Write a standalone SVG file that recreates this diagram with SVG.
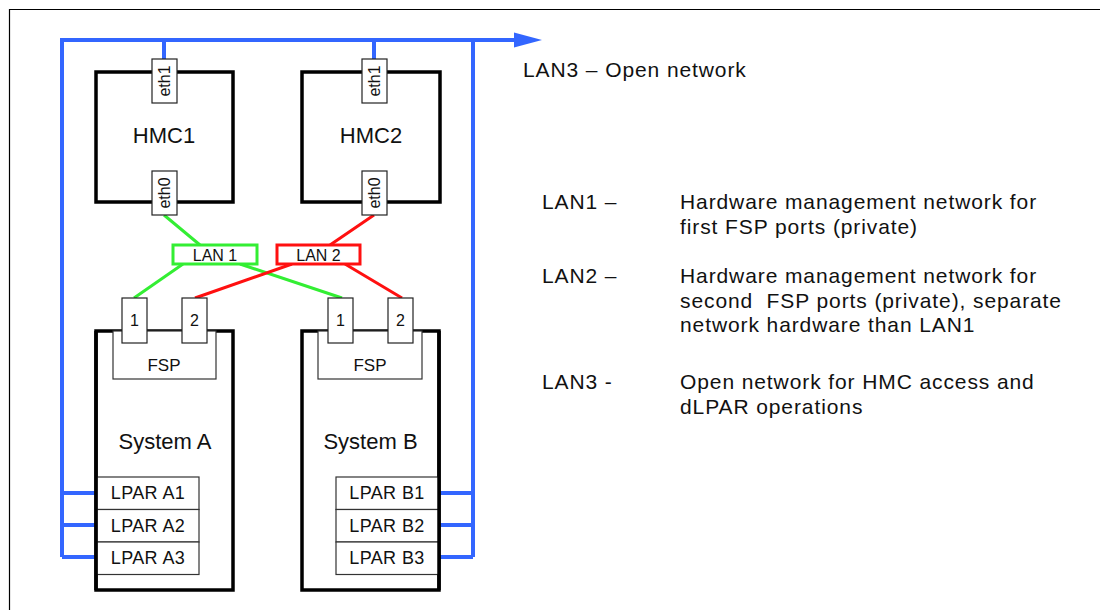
<svg xmlns="http://www.w3.org/2000/svg" width="1100" height="610" viewBox="0 0 1100 610">
<defs>
<style>
text{font-family:"Liberation Sans",Arial,sans-serif;fill:#111}
.big{font-size:22px}
.leg{font-size:21px;letter-spacing:0.9px}
.port{fill:#fff;stroke:#222;stroke-width:1.2}
.sys{fill:#fff;stroke:#000;stroke-width:3.5}
.thin{fill:#fff;stroke:#333;stroke-width:1.2}
.blue{stroke:#3366ff;stroke-width:4;fill:none}
.green{stroke:#33ee33;stroke-width:3;fill:none}
.red{stroke:#ff1010;stroke-width:3;fill:none}
.eth{font-size:16px}
.pn{font-size:16px}
.lpar{font-size:18px;letter-spacing:0.4px}
</style>
</defs>
<rect x="0" y="0" width="1100" height="610" fill="#fff"/>
<path d="M9.5,610 V9.5 H1100" fill="none" stroke="#000" stroke-width="1.2"/>

<g id="connectors">
<path class="blue" d="M62,557 V40 H516"/>
<polygon points="514,32.5 542,40 514,47.5" fill="#3366ff"/>
<path class="blue" d="M473,557 V40"/>
<path class="blue" d="M164,40 V59 M374,40 V59"/>
<path class="blue" d="M62,493 H97 M62,525 H97 M62,557 H97"/>
<path class="blue" d="M439,493 H473 M439,525 H473 M439,557 H473"/>
<path class="green" d="M164,215 L200,245 M183,264 L134,298 M240,264 L342,298"/>
<path class="red" d="M374,215 L330,245 M292,264 L195,298 M345,264 L402,298"/>
</g>

<g id="hmc1">
<rect class="sys" x="96" y="72" width="137" height="130"/>
<text class="big" x="164" y="143" text-anchor="middle">HMC1</text>
<rect class="port" x="152" y="59" width="25" height="44"/>
<text class="eth" transform="translate(170,81) rotate(-90)" text-anchor="middle">eth1</text>
<rect class="port" x="152" y="171" width="25" height="44"/>
<text class="eth" transform="translate(170,193) rotate(-90)" text-anchor="middle">eth0</text>
</g>

<g id="hmc2">
<rect class="sys" x="302" y="72" width="138" height="130"/>
<text class="big" x="371" y="143" text-anchor="middle">HMC2</text>
<rect class="port" x="362" y="59" width="25" height="44"/>
<text class="eth" transform="translate(380,81) rotate(-90)" text-anchor="middle">eth1</text>
<rect class="port" x="362" y="171" width="25" height="44"/>
<text class="eth" transform="translate(380,193) rotate(-90)" text-anchor="middle">eth0</text>
</g>

<g id="lan1">
<rect x="173" y="245" width="84" height="19" fill="#fff" stroke="#33ee33" stroke-width="3"/>
<text class="pn" x="215" y="261" text-anchor="middle">LAN 1</text>
</g>
<g id="lan2">
<rect x="277" y="245" width="83" height="19" fill="#fff" stroke="#ff1010" stroke-width="3"/>
<text class="pn" x="318.5" y="261" text-anchor="middle">LAN 2</text>
</g>

<g id="systemA">
<rect class="sys" x="96" y="331" width="137" height="259"/>
<rect class="thin" x="113" y="331" width="103" height="48"/>
<text class="pn" x="164" y="371" text-anchor="middle" style="font-size:17px">FSP</text>
<rect class="port" x="122" y="298" width="25" height="45"/>
<text class="pn" x="134.5" y="326" text-anchor="middle">1</text>
<rect class="port" x="182" y="298" width="25" height="45"/>
<text class="pn" x="194.5" y="326" text-anchor="middle">2</text>
<text class="big" x="165" y="449" text-anchor="middle">System A</text>
<rect class="thin" x="97" y="477" width="102" height="32.5"/>
<rect class="thin" x="97" y="509.5" width="102" height="32.5"/>
<rect class="thin" x="97" y="542" width="102" height="32.5"/>
<text class="lpar" x="148" y="499" text-anchor="middle">LPAR A1</text>
<text class="lpar" x="148" y="531.5" text-anchor="middle">LPAR A2</text>
<text class="lpar" x="148" y="564" text-anchor="middle">LPAR A3</text>
<path d="M96,331 V590" stroke="#000" stroke-width="3.5"/>
</g>

<g id="systemB">
<rect class="sys" x="302" y="331" width="137" height="259"/>
<rect class="thin" x="318" y="331" width="104" height="48"/>
<text class="pn" x="370" y="371" text-anchor="middle" style="font-size:17px">FSP</text>
<rect class="port" x="328" y="298" width="25" height="45"/>
<text class="pn" x="340.5" y="326" text-anchor="middle">1</text>
<rect class="port" x="388" y="298" width="25" height="45"/>
<text class="pn" x="400.5" y="326" text-anchor="middle">2</text>
<text class="big" x="370.5" y="449" text-anchor="middle">System B</text>
<rect class="thin" x="336" y="477" width="103" height="32.5"/>
<rect class="thin" x="336" y="509.5" width="103" height="32.5"/>
<rect class="thin" x="336" y="542" width="103" height="32.5"/>
<text class="lpar" x="387" y="499" text-anchor="middle">LPAR B1</text>
<text class="lpar" x="387" y="531.5" text-anchor="middle">LPAR B2</text>
<text class="lpar" x="387" y="564" text-anchor="middle">LPAR B3</text>
<path d="M439,331 V590" stroke="#000" stroke-width="3.5"/>
</g>

<g id="legend">
<text class="leg" x="523" y="77">LAN3 – Open network</text>
<text class="leg" x="542" y="209">LAN1 –</text>
<text class="leg" x="680" y="209">Hardware management network for</text>
<text class="leg" x="680" y="234">first FSP ports (private)</text>
<text class="leg" x="542" y="283">LAN2 –</text>
<text class="leg" x="680" y="283">Hardware management network for</text>
<text class="leg" x="680" y="308">second&#160; FSP ports (private), separate</text>
<text class="leg" x="680" y="332">network hardware than LAN1</text>
<text class="leg" x="542" y="389">LAN3 -</text>
<text class="leg" x="680" y="389">Open network for HMC access and</text>
<text class="leg" x="680" y="414">dLPAR operations</text>
</g>
</svg>
